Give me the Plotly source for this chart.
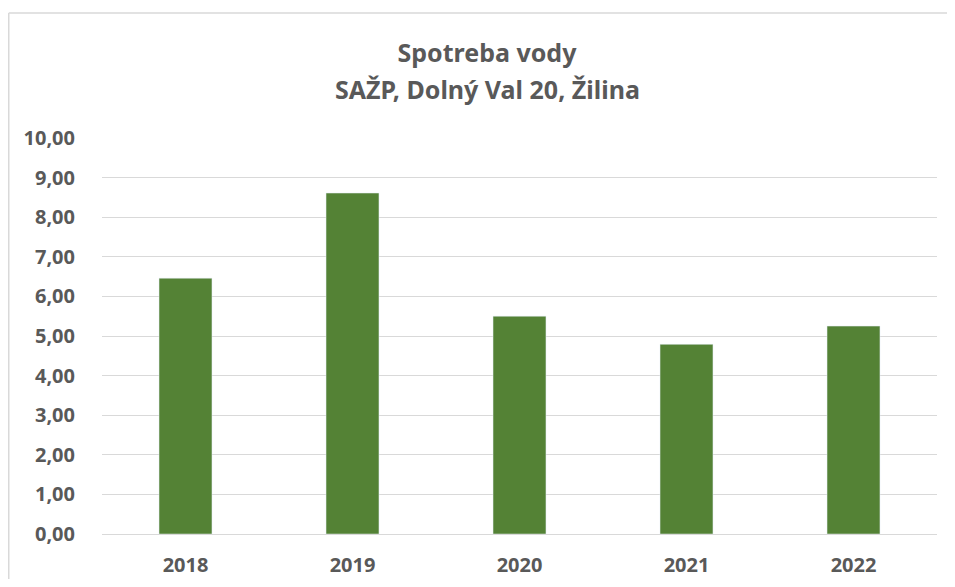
import plotly.graph_objects as go

years = ["2018", "2019", "2020", "2021", "2022"]
values = [6.46, 8.61, 5.50, 4.79, 5.25]
y_ticks = [0, 1, 2, 3, 4, 5, 6, 7, 8, 9, 10]
y_tick_labels = ["0,00", "1,00", "2,00", "3,00", "4,00", "5,00", "6,00", "7,00", "8,00", "9,00", "10,00"]
title_line1 = "Spotreba vody"
title_line2 = "SAŽP, Dolný Val 20, Žilina"

OFF = 8  # default page body margin; keep page within the 955x587 window
W, H = 955 - 2 * OFF, 587 - 2 * OFF
L, T = 102 - OFF, 138 - OFF
R = W - (937 - OFF)
B = H - (534 - OFF)
pw, ph = W - L - R, H - T - B

FONT = "Noto Sans, Open Sans, Liberation Sans, sans-serif"
font_color = "#595959"

fig = go.Figure(go.Bar(x=years, y=values, marker_color="#548235", width=0.317))

fig.update_layout(
    width=W, height=H,
    margin=dict(l=L, r=R, t=T, b=B),
    paper_bgcolor="white", plot_bgcolor="white",
    font=dict(family=FONT, color=font_color),
    title=dict(
        text=f"<b>{title_line1}</b>",
        x=(487 - OFF) / W, xanchor="center", y=1 - (53 - OFF) / H, yanchor="middle",
        font=dict(size=25, color=font_color, family=FONT),
    ),
    showlegend=False,
    xaxis=dict(
        showgrid=False, showline=True, linecolor="#d9d9d9", linewidth=1,
        tickvals=years, ticktext=[f"<b>{y}</b>" for y in years],
        tickfont=dict(size=20, color=font_color, family=FONT),
        ticks="outside", ticklen=13, tickcolor="rgba(0,0,0,0)", zeroline=False,
        automargin=False,
    ),
    yaxis=dict(
        range=[0, 10], tickvals=y_ticks, ticktext=[f"<b>{t}</b>" for t in y_tick_labels],
        showgrid=True, gridcolor="#d9d9d9", gridwidth=1, zeroline=False,
        tickfont=dict(size=20, color=font_color, family=FONT),
        ticks="outside", ticklen=22, tickcolor="rgba(0,0,0,0)",
        automargin=False,
    ),
)

fig.add_annotation(
    text=f"<b>{title_line2}</b>", xref="paper", yref="paper",
    x=((487 - OFF) - L) / pw, y=1 + (T - (89 - OFF)) / ph,
    xanchor="center", yanchor="middle", showarrow=False,
    font=dict(size=25, color=font_color, family=FONT),
)

# chart area border (top and left edges only are visible in the reference)
border_top = 1 + (T - (13 - OFF)) / ph
border_left = (0.75 - L) / pw
fig.add_shape(type="line", xref="paper", yref="paper",
              x0=border_left, x1=(W - L) / pw, y0=border_top, y1=border_top,
              line=dict(color="#d9d9d9", width=1.5), layer="below")
fig.add_shape(type="line", xref="paper", yref="paper",
              x0=border_left, x1=border_left, y0=border_top, y1=-B / ph,
              line=dict(color="#d9d9d9", width=1.5), layer="below")

fig.write_html("out.html")
